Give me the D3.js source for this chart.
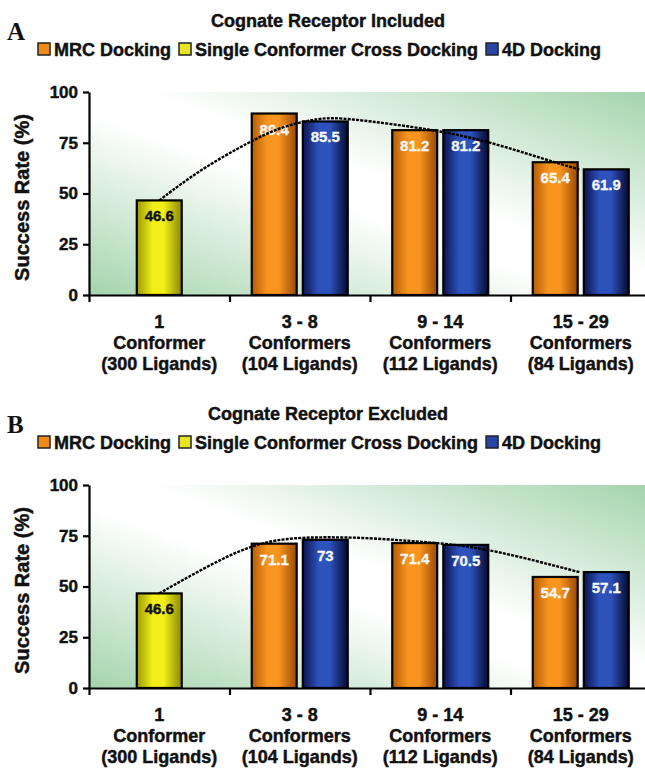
<!DOCTYPE html>
<html>
<head>
<meta charset="utf-8">
<script src="https://cdn.jsdelivr.net/npm/d3@7/dist/d3.min.js"></script>
<style>
  html, body { margin: 0; padding: 0; background: #ffffff; }
  svg { display: block; }
  text { font-family: "Liberation Sans", Arial, sans-serif; font-weight: bold; }
  text.heavy { stroke: #111; stroke-width: 0.45px; paint-order: stroke; }
  text.heavyw { stroke: #ffffff; stroke-width: 0.3px; }
</style>
</head>
<body>
<svg id="chart" width="645" height="768"></svg>
<script>
// ---------------- DATA ----------------
const categories = ["1", "3 - 8", "9 - 14", "15 - 29"];
const catLine2 = ["Conformer", "Conformers", "Conformers", "Conformers"];
const catLine3 = ["(300 Ligands)", "(104 Ligands)", "(112 Ligands)", "(84 Ligands)"];
const seriesNames = ["MRC Docking", "Single Conformer Cross Docking", "4D Docking"];
const yTicks = [0, 25, 50, 75, 100];

// Panel A: Cognate Receptor Included
const mrcIncluded    = [null, 89.4, 81.2, 65.4];
const singleIncluded = [46.6, null, null, null];
const d4Included     = [null, 85.5, 81.2, 61.9];
const trendPosA = [0, 0.29, 0.645, 0.86, 1.14, 1.32, 1.97, 2.35, 2.75, 2.99];
const trendValA = [46.6, 61.8, 75.5, 82.8, 87.3, 87.3, 81.4, 75.5, 66.7, 61.8];

// Panel B: Cognate Receptor Excluded
const mrcExcluded    = [null, 71.1, 71.4, 54.7];
const singleExcluded = [46.6, null, null, null];
const d4Excluded     = [null, 73, 70.5, 57.1];
const trendPosB = [0, 0.33, 0.65, 0.91, 1.2, 1.5, 1.79, 2.06, 2.38, 2.99];
const trendValB = [46.6, 59.6, 70.4, 73.9, 74.4, 73.9, 72.4, 71.0, 68.0, 57.1];

// ---------------- CHART ----------------
const svg = d3.select("#chart");
const defs = svg.append("defs");

function barGradient(id, dark, bright, dark2) {
  const g = defs.append("linearGradient").attr("id", id)
    .attr("x1", "0").attr("y1", "0").attr("x2", "1").attr("y2", "0");
  g.append("stop").attr("offset", "0").attr("stop-color", dark);
  g.append("stop").attr("offset", "0.35").attr("stop-color", bright);
  g.append("stop").attr("offset", "0.6").attr("stop-color", bright);
  g.append("stop").attr("offset", "1").attr("stop-color", dark2);
}
barGradient("gOrange", "#b55c06", "#f9951f", "#9a4a04");
barGradient("gYellow", "#9c9a06", "#f2ee18", "#8a8806");
barGradient("gBlue", "#0c1250", "#2d52bc", "#050a30");
const fills = ["url(#gOrange)", "url(#gYellow)", "url(#gBlue)"];
const legendFills = ["#f28a1a", "#e8e620", "#2746a8"];

const bg = defs.append("linearGradient").attr("id", "bgGrad")
  .attr("x1", "0").attr("y1", "1").attr("x2", "1").attr("y2", "0");
bg.append("stop").attr("offset", "0").attr("stop-color", "#a4d4ad");
bg.append("stop").attr("offset", "0.45").attr("stop-color", "#ffffff");
bg.append("stop").attr("offset", "0.55").attr("stop-color", "#ffffff");
bg.append("stop").attr("offset", "1").attr("stop-color", "#a4d4ad");

const left = 89, right = 651, plotRightVisible = 645;

function drawPanel(off, letter, title, mrc, single, d4, tPos, tVal) {
  const g = svg.append("g");
  const y = d3.scaleLinear().domain([0, 100]).range([295 + off, 92 + off]);
  const x = d3.scaleBand().domain(categories).range([left, right]).padding(0);
  const xb = d3.scaleLinear().domain([0, categories.length]).range([left, right]);
  const inner = d3.scaleBand().domain(["mrc", "d4"]).range([-48, 48]).paddingInner(0.12);
  const bw = inner.bandwidth();
  const cx = c => x(c) + x.bandwidth() / 2;

  // panel letter, title
  g.append("text").attr("x", 7).attr("y", 40 + off)
    .style("font-family", "'Liberation Serif', 'Times New Roman', serif")
    .style("font-size", "25px").attr("fill", "#111").text(letter);
  g.append("text").attr("class", "heavy").attr("x", 328).attr("y", 27 + off).attr("text-anchor", "middle")
    .style("font-size", "18px").attr("fill", "#111").text(title);

  // legend
  let lx = 38;
  seriesNames.forEach((name, i) => {
    g.append("rect").attr("x", lx).attr("y", 43 + off).attr("width", 12).attr("height", 12)
      .attr("fill", legendFills[i]).attr("stroke", "#222").attr("stroke-width", 1.5);
    const t = g.append("text").attr("class", "heavy").attr("x", lx + 16).attr("y", 56 + off)
      .style("font-size", "18px").attr("fill", "#111").text(name);
    lx = lx + 16 + t.node().getComputedTextLength() + 8;
  });

  // plot background
  g.append("rect").attr("x", left).attr("y", y(100))
    .attr("width", plotRightVisible - left).attr("height", y(0) - y(100))
    .attr("fill", "url(#bgGrad)");

  // bars
  const bars = [];
  categories.forEach((c, i) => {
    if (single[i] != null) bars.push({ x: cx(c) - bw / 2, v: single[i], s: 1 });
    if (mrc[i] != null) bars.push({ x: cx(c) + inner("mrc"), v: mrc[i], s: 0 });
    if (d4[i] != null) bars.push({ x: cx(c) + inner("d4"), v: d4[i], s: 2 });
  });
  g.selectAll("rect.bar").data(bars).enter().append("rect").attr("class", "bar")
    .attr("x", d => d.x).attr("width", bw)
    .attr("y", d => y(d.v)).attr("height", d => y(0) - y(d.v))
    .attr("fill", d => fills[d.s]).attr("stroke", "#000").attr("stroke-width", 2.2);
  g.selectAll("text.val").data(bars).enter().append("text")
    .attr("class", d => d.s === 1 ? "val heavy" : "val heavyw")
    .attr("x", d => d.x + bw / 2).attr("y", d => y(d.v) + 21)
    .attr("text-anchor", "middle").style("font-size", "15px")
    .attr("fill", d => d.s === 1 ? "#111" : "#f4f4f4")
    .text(d => String(d.v));

  // trend line
  const xt = d3.scaleLinear().domain([0, 3]).range([cx(categories[0]), cx(categories[3])]);
  const line = d3.line().x(d => xt(d[0])).y(d => y(d[1])).curve(d3.curveBasis);
  g.append("path").datum(tPos.map((p, i) => [p, tVal[i]]))
    .attr("d", line).attr("fill", "none").attr("stroke", "#000")
    .attr("stroke-width", 2.4).attr("stroke-dasharray", "3,1.2");

  // axes
  const ya = g.append("g").attr("transform", `translate(${left},0)`)
    .call(d3.axisLeft(y).tickValues(yTicks).tickSize(6).tickSizeOuter(0).tickPadding(5));
  ya.select(".domain").attr("stroke-width", 2.2);
  ya.selectAll(".tick line").attr("stroke-width", 2.2);
  ya.selectAll(".tick text").attr("class", "heavy").style("font-size", "17px")
    .style("font-family", "'Liberation Sans', Arial, sans-serif").style("font-weight", "bold")
    .attr("fill", "#111");

  const xa = g.append("g").attr("transform", `translate(0,${y(0)})`)
    .call(d3.axisBottom(xb).tickValues([0, 1, 2, 3]).tickSize(7).tickSizeOuter(0).tickFormat(""));
  xa.select(".domain").attr("stroke-width", 2.2);
  xa.selectAll(".tick line").attr("stroke-width", 2.2);

  // category labels
  const lines = [categories, catLine2, catLine3];
  lines.forEach((arr, li) => {
    g.selectAll(null).data(arr).enter().append("text").attr("class", "heavy")
      .attr("x", (d, i) => cx(categories[i]))
      .attr("y", y(0) + 33 + li * 21)
      .attr("text-anchor", "middle").style("font-size", "18px").attr("fill", "#111")
      .text(d => d);
  });

  // y label
  g.append("text").attr("class", "heavy")
    .attr("transform", `translate(29,${(y(0) + y(100)) / 2 + 4}) rotate(-90)`)
    .attr("text-anchor", "middle").style("font-size", "20px").attr("fill", "#111")
    .text("Success Rate (%)");
}

drawPanel(0, "A", "Cognate Receptor Included", mrcIncluded, singleIncluded, d4Included, trendPosA, trendValA);
drawPanel(393, "B", "Cognate Receptor Excluded", mrcExcluded, singleExcluded, d4Excluded, trendPosB, trendValB);
</script>
</body>
</html>
